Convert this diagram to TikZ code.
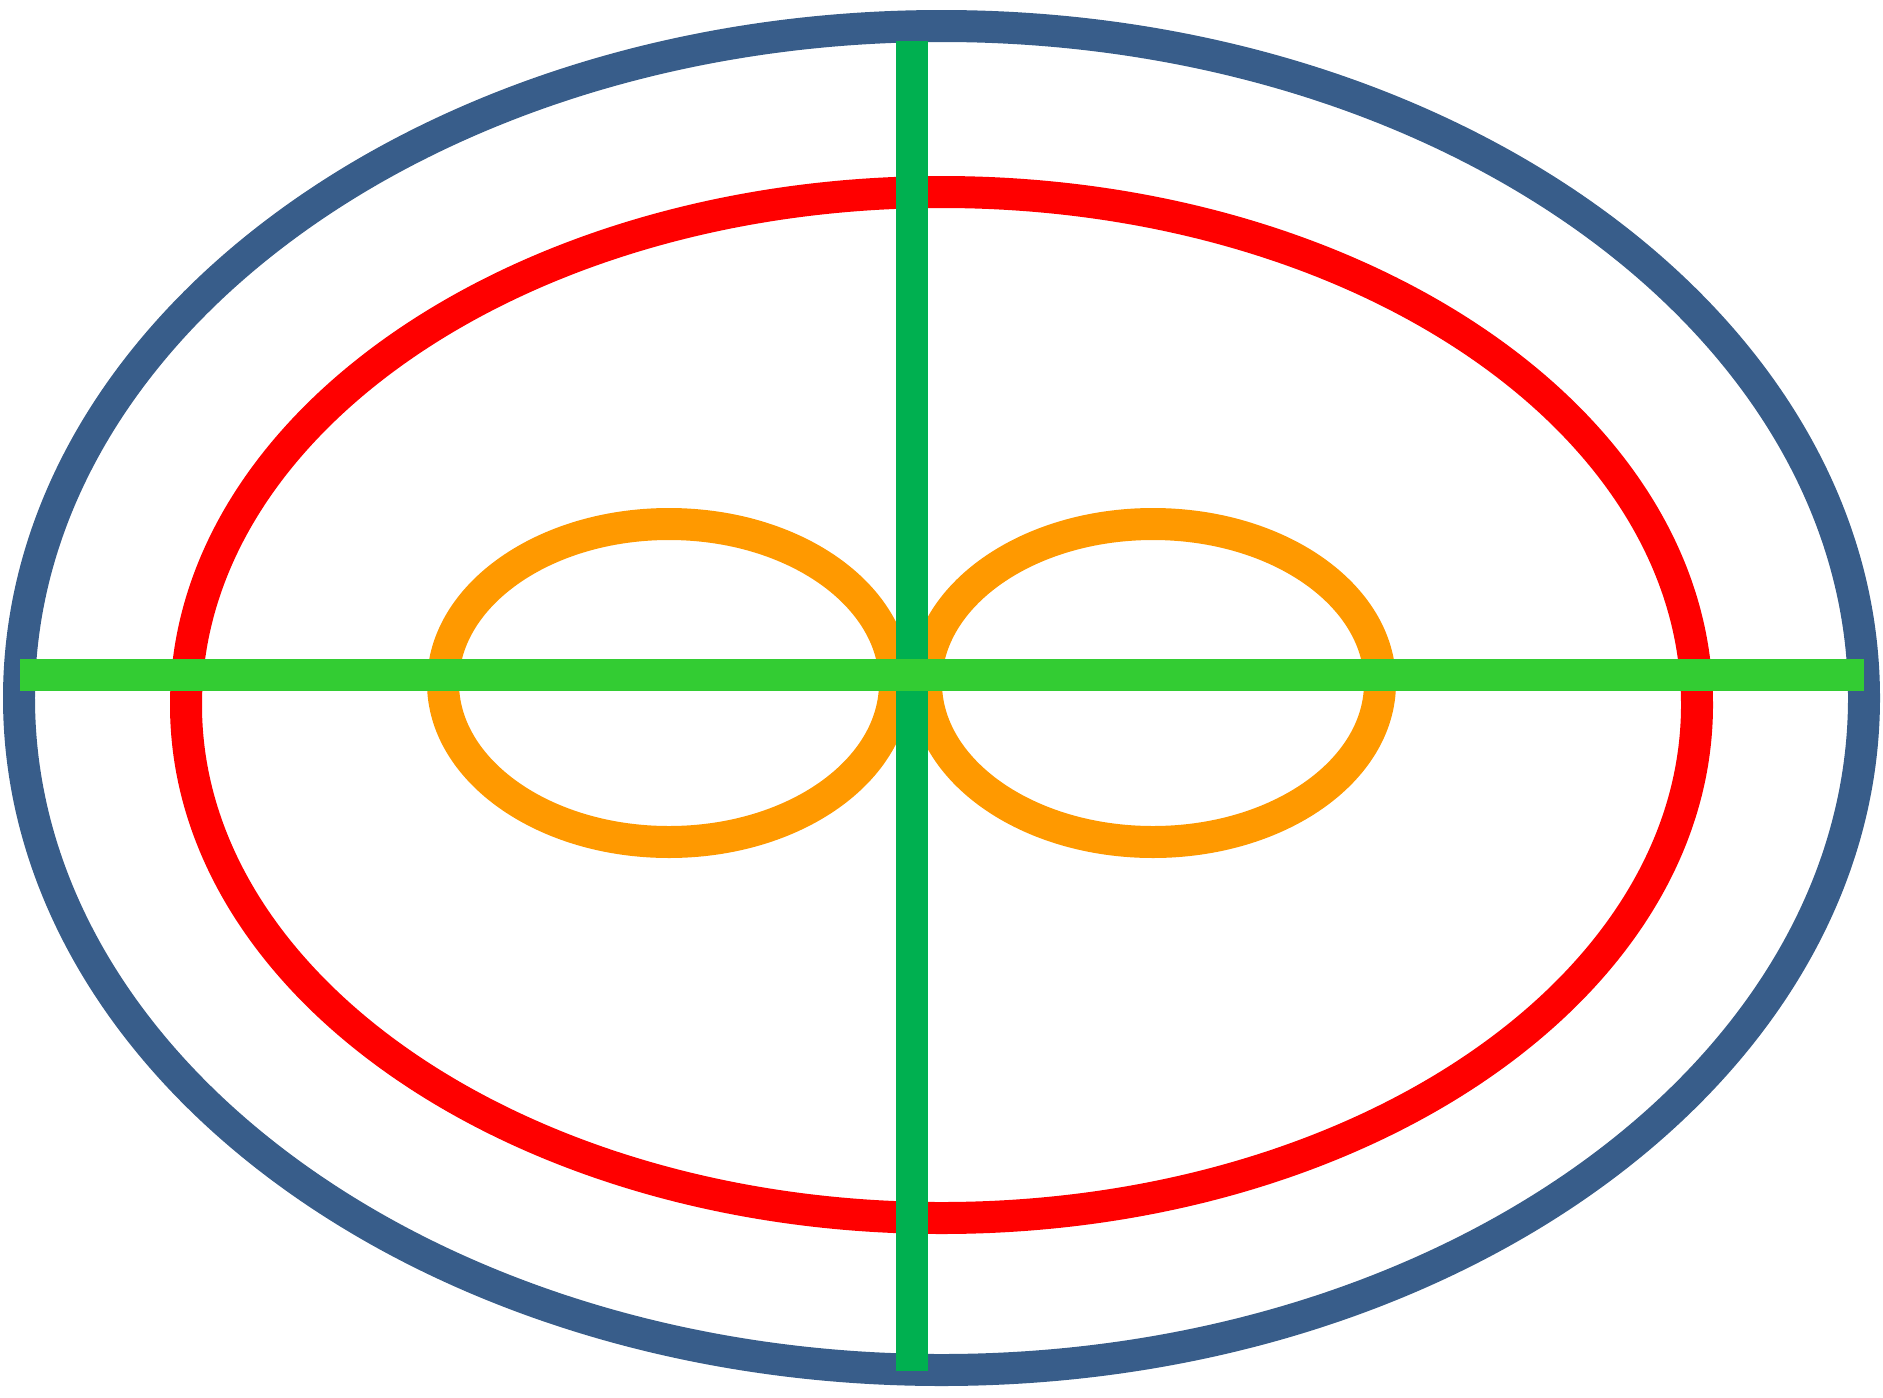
\documentclass[tikz,border=0pt]{standalone}
\definecolor{outerblue}{RGB}{56,93,138}
\definecolor{vgreen}{RGB}{0,176,80}
\definecolor{hgreen}{RGB}{51,204,51}
\definecolor{lobeorange}{RGB}{255,153,0}
\begin{document}
\begin{tikzpicture}[x=0.02cm,y=-0.02cm,
  ring/.style={line width=0.64cm},
  axis/.style={line width=0.64cm,line cap=butt}]
\useasboundingbox (0,0) rectangle (1883,1397);
\draw[ring,outerblue] (941.5,698) ellipse [x radius=922.5, y radius=672];
\draw[ring,red] (941.5,705) ellipse [x radius=755.5, y radius=513];
\draw[ring,lobeorange] (669,683) ellipse [x radius=226, y radius=159];
\draw[ring,lobeorange] (1153,683) ellipse [x radius=227, y radius=159];
\coordinate (vtop) at (912,40.7);
\coordinate (vbot) at (912,1370.7);
\coordinate (hleft) at (20,675.3);
\coordinate (hright) at (1864,675.3);
\draw[axis,vgreen] (vtop) -- (vbot);
\draw[axis,hgreen] (hleft) -- (hright);
\end{tikzpicture}
\end{document}
